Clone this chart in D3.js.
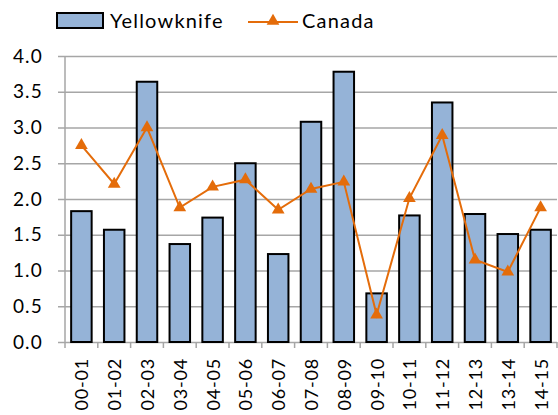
<!DOCTYPE html>
<html>
<head>
<meta charset="utf-8">
<script src="https://cdn.jsdelivr.net/npm/d3@7"></script>
<style>
  body { margin: 0; background: #fff; }
  text { font-family: Lato, "Open Sans", sans-serif; fill: #000; letter-spacing: 1.2px; }
</style>
</head>
<body>
<script>
const periods = ['00-01', '01-02', '02-03', '03-04', '04-05', '05-06', '06-07', '07-08',
	'08-09', '09-10', '10-11', '11-12', '12-13', '13-14', '14-15'];
const yellowknife = [1.83, 1.57, 3.64, 1.37, 1.74, 2.50, 1.23, 3.08, 3.78, 0.68, 1.77, 3.35, 1.79, 1.51, 1.57];
const canada = [2.75, 2.21, 3.00, 1.88, 2.17, 2.27, 1.85, 2.14, 2.24, 0.38, 2.01, 2.89, 1.15, 0.98, 1.88];
const yTicks = [0, 0.5, 1, 1.5, 2, 2.5, 3, 3.5, 4];

const width = 558, height = 415;
const plotLeft = 65, plotRight = 557, plotTop = 56, plotBottom = 342;
const barColor = '#95b3d7', lineColor = '#e46c0a', gridColor = '#a6a6a6';

const svg = d3.select('body').append('svg')
	.attr('width', width)
	.attr('height', height);

const xScale = d3.scaleBand().domain(periods).range([plotLeft, plotRight]).paddingInner(0.375).paddingOuter(0.1875);
const yScale = d3.scaleLinear().domain([0, 4]).range([plotBottom, plotTop]);

// horizontal gridlines + y axis
const yAxis = d3.axisLeft(yScale)
	.tickValues(yTicks)
	.tickFormat(d3.format('.1f'))
	.tickSize(-(plotRight - plotLeft))
	.tickPadding(22);
const yAxisG = svg.append('g')
	.attr('transform', 'translate(' + plotLeft + ',0)')
	.call(yAxis);
yAxisG.select('.domain').remove();
yAxisG.selectAll('.tick line')
	.attr('x1', -7)
	.attr('stroke', gridColor)
	.attr('stroke-width', 1.5);
yAxisG.selectAll('.tick text').style('font-size', '19px');

// vertical axis line
svg.append('line')
	.attr('x1', plotLeft).attr('x2', plotLeft)
	.attr('y1', plotTop).attr('y2', plotBottom)
	.attr('stroke', gridColor)
	.attr('stroke-width', 1.5);

// x tick marks at band boundaries
const step = xScale.step();
const boundaries = d3.range(periods.length + 1).map((i) => plotLeft + i * step);
svg.append('g')
	.selectAll('line')
	.data(boundaries)
	.enter()
	.append('line')
	.attr('x1', (d) => d).attr('x2', (d) => d)
	.attr('y1', plotBottom).attr('y2', plotBottom + 6)
	.attr('stroke', gridColor)
	.attr('stroke-width', 1.5);

// x labels
svg.append('g')
	.selectAll('text')
	.data(periods)
	.enter()
	.append('text')
	.attr('transform', (d) => 'translate(' + (xScale(d) + xScale.bandwidth() / 2 + 7) + ',' + 358 + ') rotate(-90)')
	.attr('text-anchor', 'end')
	.style('font-size', '18px')
	.style('letter-spacing', '0.8px')
	.text((d) => d);

// bars
svg.append('g')
	.selectAll('rect')
	.data(yellowknife)
	.enter()
	.append('rect')
	.attr('x', (d, i) => xScale(periods[i]))
	.attr('y', (d) => yScale(d))
	.attr('width', xScale.bandwidth())
	.attr('height', (d) => plotBottom - yScale(d))
	.attr('fill', barColor)
	.attr('stroke', '#000')
	.attr('stroke-width', 2);

// Canada line
const xMid = (i) => xScale(periods[i]) + xScale.bandwidth() / 2;
const line = d3.line()
	.x((d, i) => xMid(i))
	.y((d) => yScale(d));
svg.append('path')
	.datum(canada)
	.attr('d', line)
	.attr('fill', 'none')
	.attr('stroke', lineColor)
	.attr('stroke-width', 2);

const triangle = d3.symbol().type(d3.symbolTriangle).size(70);
svg.append('g')
	.selectAll('path')
	.data(canada)
	.enter()
	.append('path')
	.attr('d', triangle)
	.attr('transform', (d, i) => 'translate(' + xMid(i) + ',' + yScale(d) + ')')
	.attr('fill', lineColor);

// legend
const legend = svg.append('g');
legend.append('rect')
	.attr('x', 57).attr('y', 13)
	.attr('width', 46).attr('height', 15)
	.attr('fill', barColor)
	.attr('stroke', '#000')
	.attr('stroke-width', 2);
legend.append('text')
	.attr('x', 110).attr('y', 28)
	.style('font-size', '20px')
	.text('Yellowknife');
legend.append('line')
	.attr('x1', 248).attr('x2', 298)
	.attr('y1', 22).attr('y2', 22)
	.attr('stroke', lineColor)
	.attr('stroke-width', 2);
legend.append('path')
	.attr('d', triangle)
	.attr('transform', 'translate(273,21)')
	.attr('fill', lineColor);
legend.append('text')
	.attr('x', 302).attr('y', 28)
	.style('font-size', '20px')
	.text('Canada');
</script>
</body>
</html>
